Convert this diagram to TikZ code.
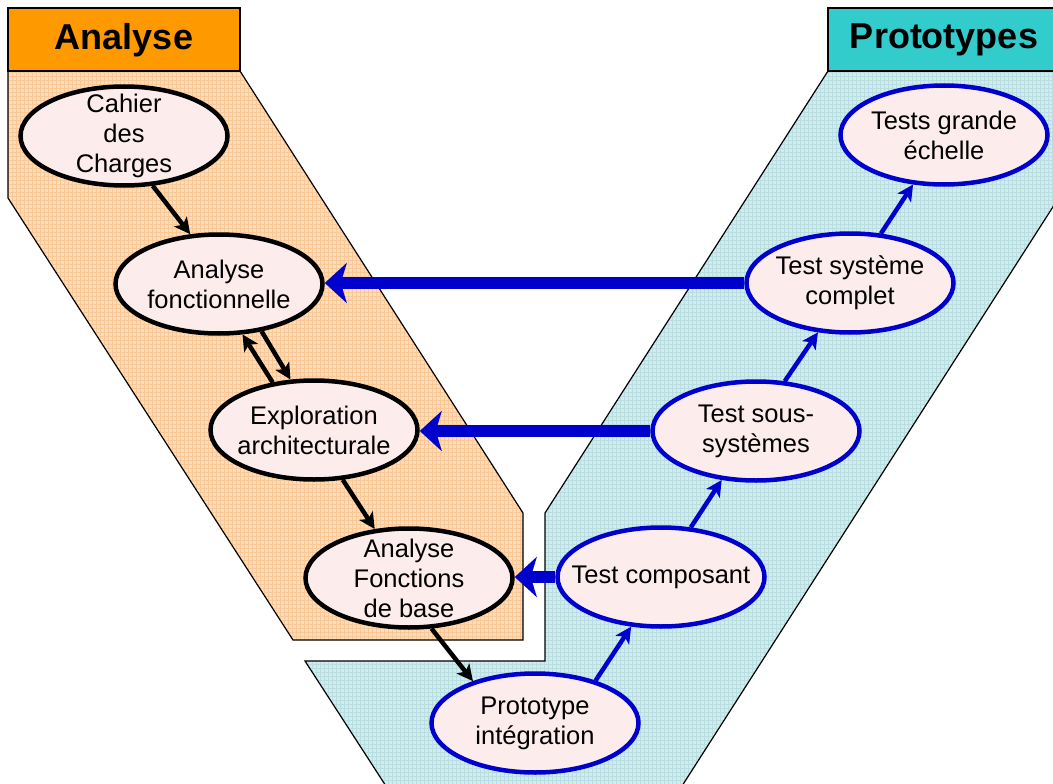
\documentclass[tikz,border=0pt]{standalone}
\usepackage{fontspec}
\setmainfont{Liberation Sans}
\usetikzlibrary{shapes.geometric,arrows.meta}
\definecolor{hdrorange}{RGB}{255,153,0}
\definecolor{hdrteal}{RGB}{51,204,204}
\definecolor{bandorange}{RGB}{253,222,188}
\definecolor{gridorange}{RGB}{250,200,150}
\definecolor{bandteal}{RGB}{210,236,238}
\definecolor{gridteal}{RGB}{184,222,226}
\definecolor{ellfill}{RGB}{253,236,236}
\definecolor{vblue}{RGB}{0,0,204}
\begin{document}
\begin{tikzpicture}[x=1pt,y=-1pt,
  anal/.style={ellipse, draw=black, line width=4.5pt, fill=ellfill,
    minimum width=207pt, minimum height=99pt, inner sep=0pt,
    label={[align=center, font=\fontsize{25.5}{30}\selectfont]center:#1}},
  proto/.style={anal={#1}, draw=vblue},
  hdr/.style={draw=black, line width=1.2pt},
  hdrtext/.style={font=\fontsize{36}{40}\selectfont\bfseries},
  blackarr/.style={draw=black, line width=4.5pt, -{Stealth[length=16pt,width=16pt,inset=4pt]}},
  bluearr/.style={draw=vblue, line width=4.5pt, -{Stealth[length=16pt,width=16pt,inset=4pt]}},
  bigarr/.style={draw=vblue, line width=12pt, -{Stealth[length=22pt,width=40pt,inset=6pt]}},
  bandline/.style={draw=black, line width=1.2pt}]
\useasboundingbox (0,0) rectangle (1053,784);
\clip (0,0) rectangle (1053,784);
\def\orangeband{(8,71) -- (240,71) -- (523,513) -- (523,640) -- (293,640) -- (8,198) -- cycle}
\def\tealband{(828,71) -- (1140,71) -- (673,800) -- (395,800) -- (305,661) -- (545,661) -- (545,513) -- cycle}
% orange band
\fill[bandorange] \orangeband;
\begin{scope}
  \clip \orangeband;
  \draw[gridorange, line width=0.6pt] (0,0) grid[step=4pt] (1053,784);
\end{scope}
\draw[bandline] \orangeband;
% teal band
\fill[bandteal] \tealband;
\begin{scope}
  \clip \tealband;
  \draw[gridteal, line width=0.6pt] (0,0) grid[step=4pt] (1053,784);
\end{scope}
\draw[bandline] \tealband;
% headers
\path[hdr, fill=hdrorange] (8,8) rectangle (240,71);
\node[hdrtext] (hA) at (124,40) {Analyse};
\path[hdr, fill=hdrteal] (828,8) rectangle (1062,71);
\node[hdrtext] (hP) at (944,40) {Prototypes};
% nodes
\node[anal={Cahier\\des\\Charges}] (cdc) at (124,136) {};
\node[anal={Analyse\\fonctionnelle}] (af) at (219,284) {};
\node[anal={Exploration\\architecturale}] (ex) at (314,430) {};
\node[anal={Analyse\\Fonctions\\de base}] (afb) at (409,578) {};
\node[proto={Prototype\\intégration}] (pi) at (535,723) {};
\node[proto={Test composant}] (tc) at (661,577) {};
\node[proto={Test sous-\\systèmes}] (tss) at (756,431) {};
\node[proto={Test système\\complet}] (tsc) at (850,283) {};
\node[proto={Tests grande\\échelle}] (tge) at (944,135) {};
% black arrows
\draw[blackarr] (cdc.-60) -- (af.120);
\draw[blackarr] (ex.131) -- (af.-65);
\draw[blackarr] (af.-48) -- (ex.115);
\draw[blackarr] (ex.-60) -- (afb.125);
\draw[blackarr] (afb.-66) -- (pi.146);
% blue small arrows
\draw[bluearr] (pi.35) -- (tc.-121);
\draw[bluearr] (tc.59) -- (tss.-125);
\draw[bluearr] (tss.60) -- (tsc.-123);
\draw[bluearr] (tsc.58) -- (tge.-122);
% big horizontal arrows
\draw[bigarr] (tsc.west) -- (af.east |- tsc.west);
\draw[bigarr] (tss.west) -- (ex.east |- tss.west);
\draw[bigarr] (tc.west) -- (afb.east |- tc.west);
\end{tikzpicture}
\end{document}
